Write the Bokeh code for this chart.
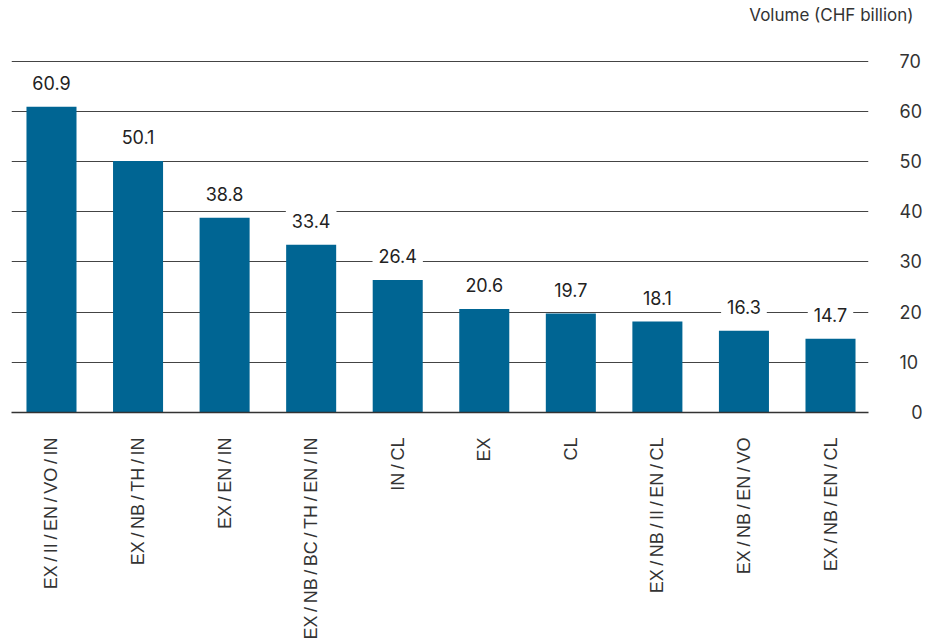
import math
from bokeh.plotting import figure
from bokeh.models import ColumnDataSource, FixedTicker, Title
from bokeh.core.properties import value
from bokeh.embed import file_html
from bokeh.resources import INLINE

S = "\u2009/\u2009"
categories = [S.join(c.split("/")) for c in [
    "EX/II/EN/VO/IN", "EX/NB/TH/IN", "EX/EN/IN", "EX/NB/BC/TH/EN/IN", "IN/CL",
    "EX", "CL", "EX/NB/II/EN/CL", "EX/NB/EN/VO", "EX/NB/EN/CL"]]
volumes = [60.9, 50.1, 38.8, 33.4, 26.4, 20.6, 19.7, 18.1, 16.3, 14.7]
y_ticks = [0, 10, 20, 30, 40, 50, 60, 70]
unit_title = "Volume (CHF billion)"

positions = list(range(len(categories)))
src = ColumnDataSource(dict(x=positions, top=volumes,
                            label=[f"{v:.1f}" for v in volumes]))

p = figure(width=933, height=644, output_backend="svg", toolbar_location=None,
           x_range=(-0.462, 9.439), y_range=(0, 70.3), y_axis_location="right",
           min_border_left=11, min_border_right=65, min_border_top=59,
           min_border_bottom=232)
p.outline_line_color = None
p.background_fill_color = "white"
p.border_fill_color = "white"

p.vbar(x="x", top="top", bottom=0, width=0.578, source=src,
       fill_color="#006593", line_color=None)

p.text(x="x", y="top", text="label", source=src, y_offset=-24,
       text_align="center", text_baseline="alphabetic",
       text_font=value("Inter"), text_font_size="18px", text_color="#222222",
       background_fill_color="white", padding=6)

# x axis
xa = p.xaxis[0]
xa.ticker = FixedTicker(ticks=positions)
xa.major_label_overrides = {i: c for i, c in enumerate(categories)}
xa.major_label_orientation = math.pi / 2
xa.major_label_text_font = "Liberation Sans"
xa.major_label_text_font_size = "18px"
xa.major_label_text_color = "#333333"
xa.major_label_standoff = 19
xa.major_tick_line_color = None
xa.minor_tick_line_color = None
xa.axis_line_color = "#333333"
xa.axis_line_width = 1.5

# y axis
ya = p.yaxis[0]
ya.ticker = FixedTicker(ticks=y_ticks)
ya.major_label_overrides = {0: "\u20070"}
ya.major_label_text_font = "Inter"
ya.major_label_text_font_size = "18px"
ya.major_label_text_color = "#333333"
ya.major_label_standoff = 25
ya.major_tick_line_color = None
ya.minor_tick_line_color = None
ya.axis_line_color = None

p.xgrid.grid_line_color = None
p.ygrid.ticker = FixedTicker(ticks=y_ticks)
p.ygrid.grid_line_color = "#444444"
p.ygrid.grid_line_width = 1

# spacer panel between the unit title and the frame
p.add_layout(Title(text=" ", text_font_size="10px", standoff=20), "above")

p.title = Title(text=unit_title, align="right", offset=-45,
                vertical_align="top",
                text_font="Inter", text_font_size="17px",
                text_font_style="normal", text_color="#333333", standoff=0)

open("out.html", "w").write(file_html(p, INLINE))
